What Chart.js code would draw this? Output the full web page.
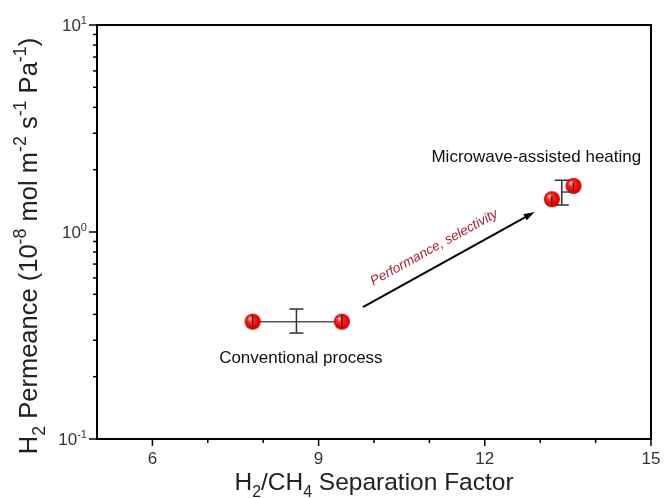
<!DOCTYPE html>
<html>
<head>
<meta charset="utf-8">
<script src="https://cdn.jsdelivr.net/npm/chart.js@4/dist/chart.umd.min.js"></script>
<style>
  html, body { margin: 0; padding: 0; background: #fff; }
  #wrap { width: 664px; height: 498px; }
</style>
</head>
<body>
<div id="wrap"><canvas id="chart-perm"></canvas></div>
<script>
// values
const convX = [7.81, 9.42];
const convY = [0.369, 0.369];
const mwX = [13.21, 13.6];
const mwY = [1.44, 1.67];
const ptLow = [0.345, 0.345, 1.36, 1.58];
const ptHigh = [0.395, 0.395, 1.49, 1.73];
const barX = [8.6, 13.39];
const barY = [0.369, 1.56];
const barLow = [0.325, 1.35];
const barHigh = [0.425, 1.78];
const mwLineX = [13.39, 13.58];
const mwLineY = [1.56, 1.56];
const arrowX = [9.8, 12.9];
const arrowY = [0.434, 1.25];

const xTicks = [6, 7, 8, 9, 10, 11, 12, 13, 14, 15];
const xLabels = [6, 9, 12, 15];
const yDecades = [0.1, 1, 10];
const yExps = ['-1', '0', '1'];

const FONT = 'Arial, "Liberation Sans", Helvetica, sans-serif';

function sphere(r) {
  const c = document.createElement('canvas');
  c.width = c.height = r * 2 + 2;
  const g = c.getContext('2d');
  const cx = r + 1;
  const grad = g.createRadialGradient(cx - r * 0.35, cx - r * 0.4, r * 0.1, cx, cx, r);
  grad.addColorStop(0, '#ffc0c0');
  grad.addColorStop(0.25, '#ff3030');
  grad.addColorStop(0.8, '#e80000');
  grad.addColorStop(1, '#b00000');
  g.fillStyle = grad;
  g.beginPath();
  g.arc(cx, cx, r, 0, Math.PI * 2);
  g.fill();
  return c;
}
const ball = sphere(8);

// text with sub/superscripts: runs like ['H', '_2', ' Perm', '^-8']
let smallRatio = 0.65;
function runFont(size, small) { return (small ? size * smallRatio : size) + 'px ' + FONT; }
function runsWidth(ctx, runs, size) {
  let w = 0;
  runs.forEach((r) => {
    const small = r[0] === '_' || r[0] === '^';
    ctx.font = runFont(size, small);
    w += ctx.measureText(small ? r.slice(1) : r).width;
  });
  return w;
}
function drawRuns(ctx, runs, x, y, size, align) {
  const w = runsWidth(ctx, runs, size);
  let cx = align === 'center' ? x - w / 2 : align === 'right' ? x - w : x;
  ctx.textAlign = 'left';
  runs.forEach((r) => {
    const sub = r[0] === '_', sup = r[0] === '^';
    const t = sub || sup ? r.slice(1) : r;
    ctx.font = runFont(size, sub || sup);
    const dy = sub ? size * 0.3 : sup ? -size * 0.42 : 0;
    ctx.fillText(t, cx, y + dy);
    cx += ctx.measureText(t).width;
  });
}

const decor = {
  id: 'decor',
  afterDatasetsDraw(chart) {
    const { ctx, chartArea: a, scales: { x, y } } = chart;
    ctx.save();
    ctx.strokeStyle = '#333';
    ctx.lineWidth = 1.5;
    // error bars
    barX.forEach((v, i) => {
      const px = x.getPixelForValue(v);
      const t = y.getPixelForValue(barHigh[i]);
      const b = y.getPixelForValue(barLow[i]);
      ctx.beginPath();
      ctx.moveTo(px, t); ctx.lineTo(px, b);
      ctx.moveTo(px - 7, t); ctx.lineTo(px + 7, t);
      ctx.moveTo(px - 7, b); ctx.lineTo(px + 7, b);
      ctx.stroke();
    });
    // small bars through the points
    const allX = convX.concat(mwX);
    ctx.strokeStyle = '#400';
    ctx.lineWidth = 1.2;
    allX.forEach((v, i) => {
      const px = x.getPixelForValue(v);
      ctx.beginPath();
      ctx.moveTo(px, y.getPixelForValue(ptHigh[i]));
      ctx.lineTo(px, y.getPixelForValue(ptLow[i]));
      ctx.stroke();
    });
    // arrow
    const x0 = x.getPixelForValue(arrowX[0]), y0 = y.getPixelForValue(arrowY[0]);
    const x1 = x.getPixelForValue(arrowX[1]), y1 = y.getPixelForValue(arrowY[1]);
    const ang = Math.atan2(y1 - y0, x1 - x0);
    ctx.strokeStyle = '#000';
    ctx.fillStyle = '#000';
    ctx.lineWidth = 2;
    ctx.beginPath();
    ctx.moveTo(x0, y0);
    ctx.lineTo(x1 - 8 * Math.cos(ang), y1 - 8 * Math.sin(ang));
    ctx.stroke();
    ctx.beginPath();
    ctx.moveTo(x1, y1);
    ctx.lineTo(x1 - 11 * Math.cos(ang) + 3.5 * Math.sin(ang), y1 - 11 * Math.sin(ang) - 3.5 * Math.cos(ang));
    ctx.lineTo(x1 - 11 * Math.cos(ang) - 3.5 * Math.sin(ang), y1 - 11 * Math.sin(ang) + 3.5 * Math.cos(ang));
    ctx.closePath();
    ctx.fill();
    // arrow label
    ctx.save();
    ctx.translate(x.getPixelForValue(11.12), y.getPixelForValue(0.81));
    ctx.rotate(ang);
    ctx.fillStyle = '#a8232e';
    ctx.font = 'italic 13.5px ' + FONT;
    ctx.textAlign = 'center';
    ctx.textBaseline = 'alphabetic';
    ctx.fillText('Performance, selectivity', 0, 0);
    ctx.restore();
    // annotations
    ctx.fillStyle = '#111';
    ctx.font = '17px ' + FONT;
    ctx.textAlign = 'center';
    ctx.textBaseline = 'middle';
    ctx.fillText('Conventional process', x.getPixelForValue(8.68), y.getPixelForValue(0.246));
    ctx.fillText('Microwave-assisted heating', x.getPixelForValue(12.93), y.getPixelForValue(2.3));

    // frame
    ctx.strokeStyle = '#000';
    ctx.lineWidth = 2;
    ctx.strokeRect(a.left, a.top, a.right - a.left, a.bottom - a.top);
    // x ticks
    ctx.lineWidth = 1.5;
    xTicks.forEach((v) => {
      const px = x.getPixelForValue(v);
      const len = xLabels.includes(v) ? 7 : 4;
      ctx.beginPath();
      ctx.moveTo(px, a.bottom); ctx.lineTo(px, a.bottom + len);
      ctx.stroke();
    });
    // y ticks
    yDecades.forEach((d, i) => {
      const py = y.getPixelForValue(d);
      ctx.beginPath();
      ctx.moveTo(a.left - 8, py); ctx.lineTo(a.left, py);
      ctx.stroke();
      if (i < yDecades.length - 1) {
        for (let m = 2; m <= 9; m++) {
          const q = y.getPixelForValue(d * m);
          ctx.beginPath();
          ctx.moveTo(a.left - 4, q); ctx.lineTo(a.left, q);
          ctx.stroke();
        }
      }
    });
    // tick labels
    ctx.fillStyle = '#333';
    ctx.textBaseline = 'alphabetic';
    ctx.font = '17px ' + FONT;
    ctx.textAlign = 'center';
    xLabels.forEach((v) => {
      ctx.fillText(String(v), x.getPixelForValue(v), a.bottom + 25);
    });
    smallRatio = 0.65;
    yDecades.forEach((d, i) => {
      drawRuns(ctx, ['10', '^' + yExps[i]], a.left - 10, y.getPixelForValue(d) + 6, 17, 'right');
    });
    // axis titles
    ctx.fillStyle = '#222';
    drawRuns(ctx, ['H', '_2', '/CH', '_4', ' Separation Factor'], (a.left + a.right) / 2, 490, 24.5, 'center');
    smallRatio = 0.7;
    ctx.save();
    ctx.translate(37, 246);
    ctx.rotate(-Math.PI / 2);
    drawRuns(ctx, ['H', '_2', ' Permeance (10', '^-8', ' mol m', '^-2', ' s', '^-1', ' Pa', '^-1', ')'], 0, 0, 25.5, 'center');
    ctx.restore();
    ctx.restore();
  }
};

const pts = (xs, ys) => xs.map((v, i) => ({ x: v, y: ys[i] }));

new Chart(document.getElementById('chart-perm'), {
  type: 'scatter',
  data: {
    datasets: [
      {
        label: 'Conventional process',
        data: pts(convX, convY),
        showLine: true,
        borderColor: '#555',
        borderWidth: 1.5,
        pointStyle: ball,
        pointRadius: 8
      },
      {
        label: 'Microwave line',
        data: pts(mwLineX, mwLineY),
        showLine: true,
        borderColor: '#444',
        borderWidth: 1.5,
        pointRadius: 0
      },
      {
        label: 'Microwave-assisted heating',
        data: pts(mwX, mwY),
        pointStyle: ball,
        pointRadius: 8
      }
    ]
  },
  options: {
    responsive: true,
    maintainAspectRatio: false,
    animation: false,
    layout: { padding: { top: 25, right: 13, left: 0, bottom: 0 } },
    plugins: { legend: { display: false }, tooltip: { enabled: false } },
    scales: {
      x: {
        type: 'linear', min: 5, max: 15,
        grid: { display: false }, border: { display: false },
        ticks: { display: false },
        afterFit: (s) => { s.height = 59; }
      },
      y: {
        type: 'logarithmic', min: 0.1, max: 10,
        grid: { display: false }, border: { display: false },
        ticks: { display: false },
        afterFit: (s) => { s.width = 97; }
      }
    }
  },
  plugins: [decor]
});
</script>
</body>
</html>
